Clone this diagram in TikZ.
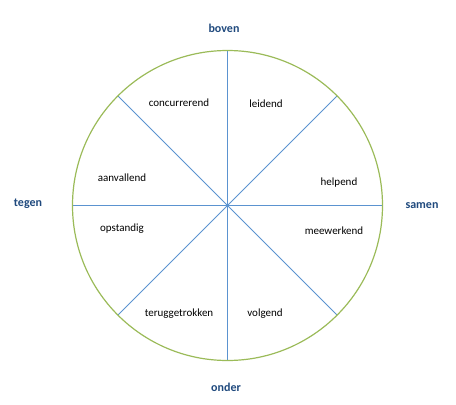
\documentclass[tikz,border=0pt]{standalone}
\usepackage{fontspec}
\setmainfont{Carlito}
\usetikzlibrary{shapes.geometric}
\definecolor{ringgreen}{HTML}{9BBB59}
\definecolor{spokeblue}{HTML}{5B93D0}
\definecolor{axisblue}{HTML}{1F497D}

\begin{document}
\begin{tikzpicture}[x=1pt, y=-1pt,
  ring/.style={circle, draw=ringgreen, line width=1.2pt, minimum size=310pt, inner sep=0pt, outer sep=0pt},
  spoke/.style={draw=spokeblue, line width=0.8pt},
  axislabel/.style={font=\fontsize{12}{14}\selectfont\bfseries, text=axisblue},
  rolelabel/.style={font=\fontsize{11}{13}\selectfont, text=black}
]
\useasboundingbox (0,0) rectangle (456,405);
\node[ring, draw=none] (wheel) at (227.5,205.5) {};
\draw[spoke] (wheel.0) -- (wheel.180);
\draw[spoke] (wheel.90) -- (wheel.270);
\draw[spoke] (wheel.45) -- (wheel.225);
\draw[spoke] (wheel.135) -- (wheel.315);
\node[ring] (rand) at (wheel.center) {};
% assen
\node[axislabel] (boven) at (224,28) {boven};
\node[axislabel] (tegen) at (28,204) {tegen};
\node[axislabel] (samen) at (422,206) {samen};
\node[axislabel] (onder) at (226,387) {onder};
% gedrag
\node[rolelabel] (concurrerend) at (179,103) {concurrerend};
\node[rolelabel] (leidend) at (266,104) {leidend};
\node[rolelabel] (helpend) at (339,183) {helpend};
\node[rolelabel] (meewerkend) at (334,231) {meewerkend};
\node[rolelabel] (aanvallend) at (122,178) {aanvallend};
\node[rolelabel] (opstandig) at (122,229) {opstandig};
\node[rolelabel] (teruggetrokken) at (179,314) {teruggetrokken};
\node[rolelabel] (volgend) at (265,314) {volgend};
\end{tikzpicture}
\end{document}
